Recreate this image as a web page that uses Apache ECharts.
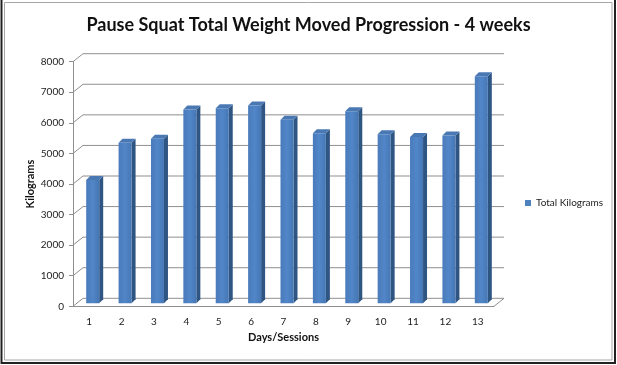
<!DOCTYPE html>
<html><head><meta charset="utf-8">
<script src="https://cdn.jsdelivr.net/npm/echarts@6/dist/echarts.min.js"></script>
<style>html,body{margin:0;padding:0;background:#fff}#c{width:617px;height:365px}</style>
</head><body><div id="c"></div>
<script>
const categories = ['1','2','3','4','5','6','7','8','9','10','11','12','13'];
const totalKilograms = [4030, 5250, 5380, 6340, 6380, 6470, 6000, 5560, 6280, 5530, 5440, 5490, 7430];
const yTicks = [0, 1000, 2000, 3000, 4000, 5000, 6000, 7000, 8000];
const seriesName = 'Total Kilograms';

const DX = 10, DY = 8;      // wall depth offset
const BDX = 3.5, BDY = 3;   // bar placement inside depth
const BW = 13, BD = 4;      // bar front width, bar depth
const GRID = '#8f8f8f';
const FONT = 'Lato';

const chart = echarts.init(document.getElementById('c'));

function renderWalls(params, api) {
  const v = api.value(1);
  const y = api.coord([0, v])[1];
  const x0 = params.coordSys.x, x1 = params.coordSys.x + params.coordSys.width;
  const children = [{
    type: 'polyline',
    shape: { points: [[x0, y], [x0 + DX, y - DY], [x1 + DX, y - DY]] },
    style: { stroke: GRID, lineWidth: 1, fill: null }
  }];
  if (v === 0) {
    children.push({
      type: 'line',
      shape: { x1: x1, y1: y, x2: x1 + DX, y2: y - DY },
      style: { stroke: GRID, lineWidth: 1 }
    });
  }
  return { type: 'group', children: children };
}

function renderBar(params, api) {
  const i = api.value(0), v = api.value(1);
  const top = api.coord([i, v]);
  const bot = api.coord([i, 0]);
  const cx = top[0] + BDX;
  const xl = cx - BW / 2, xr = cx + BW / 2;
  const yt = top[1] - BDY, yb = bot[1] - BDY;
  return {
    type: 'group',
    children: [
      { type: 'polygon', shape: { points: [[xr, yt], [xr + BD, yt - BD], [xr + BD, yb - BD], [xr, yb]] },
        style: { fill: '#2f5583' } },
      { type: 'polygon', shape: { points: [[xl, yt], [xl + BD, yt - BD], [xr + BD, yt - BD], [xr, yt]] },
        style: { fill: '#4a78b3' } },
      { type: 'rect', shape: { x: xl, y: yt, width: BW, height: yb - yt },
        style: { fill: new echarts.graphic.LinearGradient(0, 0, 1, 0, [
          { offset: 0, color: '#4a7bbb' }, { offset: 0.5, color: '#5186c8' }, { offset: 1, color: '#4677b5' }]) } }
    ]
  };
}

chart.setOption({
  animation: false,
  backgroundColor: '#fff',
  title: {
    text: 'Pause Squat Total Weight Moved Progression - 4 weeks',
    left: 'center', top: 11,
    textStyle: { fontFamily: FONT, fontWeight: 'bold', fontSize: 18, color: '#111' }
  },
  legend: {
    data: [seriesName], left: 520, top: 193,
    icon: 'rect', itemWidth: 6, itemHeight: 6, itemGap: 4,
    textStyle: { fontFamily: FONT, fontSize: 10, color: '#222' }
  },
  grid: { left: 73, width: 421, top: 61.7, bottom: 365 - 306.3 },
  xAxis: {
    type: 'category', data: categories,
    axisLine: { lineStyle: { color: GRID } },
    axisTick: { show: false },
    axisLabel: { fontFamily: FONT, fontSize: 10, color: '#222', margin: 10 },
    name: 'Days/Sessions', nameLocation: 'middle', nameGap: 26,
    nameTextStyle: { fontFamily: FONT, fontWeight: 'bold', fontSize: 11, color: '#111' }
  },
  yAxis: {
    type: 'value', min: 0, max: 8000, interval: 1000,
    axisLine: { show: true, lineStyle: { color: GRID } },
    axisTick: { show: true, length: 4, lineStyle: { color: GRID } },
    splitLine: { show: false },
    axisLabel: { fontFamily: FONT, fontSize: 10, color: '#222', margin: 9, formatter: v => String(v) },
    name: 'Kilograms', nameLocation: 'middle', nameGap: 37, nameRotate: 90, nameMoveOverlap: false,
    nameTextStyle: { fontFamily: FONT, fontWeight: 'bold', fontSize: 11, color: '#111' }
  },
  graphic: [
    { type: 'rect', shape: { x: 1.5, y: -2, width: 613.5, height: 365 }, style: { fill: null, stroke: '#222', lineWidth: 2 }, silent: true },
    { type: 'rect', shape: { x: 4.5, y: 2.5, width: 607.5, height: 357.5 }, style: { fill: null, stroke: '#a6a6a6', lineWidth: 1 }, silent: true }
  ],
  series: [
    { type: 'custom', name: 'walls', z: 1, silent: true,
      data: yTicks.map(v => [0, v]), encode: { x: 0, y: 1 }, renderItem: renderWalls },
    { type: 'custom', name: seriesName, z: 3,
      itemStyle: { color: '#4f81bd' },
      data: totalKilograms.map((v, i) => [i, v]), encode: { x: 0, y: 1 }, renderItem: renderBar }
  ]
});
</script></body></html>
